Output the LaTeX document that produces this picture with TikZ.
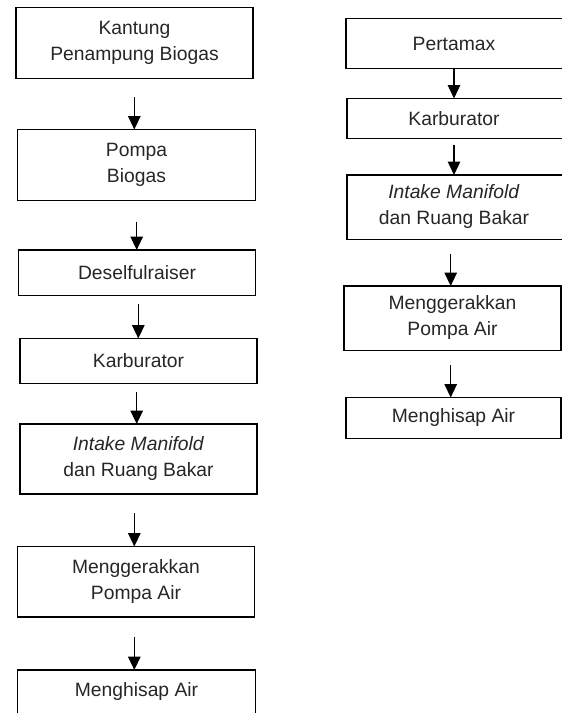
\documentclass[tikz,border=0pt]{standalone}
\usepackage{fontspec}
\setmainfont{Liberation Sans}
\usetikzlibrary{arrows.meta}
\begin{document}
\begin{tikzpicture}[x=1pt,y=-1pt,
  boxst/.style={draw=black,line width=1.4pt},
  lbl/.style={align=center,font=\fontsize{19.3}{26}\selectfont,text=black!85,inner sep=0pt},
  arr/.style={line width=1.4pt,-{Triangle[width=12.5pt,length=13.5pt]}}]
\useasboundingbox (0,0) rectangle (562,713);
% left column
\draw[boxst] (16,7.5) rectangle (253,78.5);
\node[lbl] (l1) at (134.5,43) {Kantung\\Penampung Biogas};
\draw[boxst] (17.5,129.5) rectangle (255.5,200.5);
\node[lbl] (l2) at (136.5,165) {Pompa\\Biogas};
\draw[boxst] (18.5,250) rectangle (255.5,295.5);
\node[lbl] (l3) at (137,273) {Deselfulraiser};
\draw[boxst] (20,338.5) rectangle (257,383.5);
\node[lbl] (l4) at (138.5,361) {Karburator};
\draw[boxst] (20,424) rectangle (257,494);
\node[lbl] (l5) at (138.5,459) {\textit{Intake Manifold}\\dan Ruang Bakar};
\draw[boxst] (17.5,546.5) rectangle (254.5,617);
\node[lbl] (l6) at (136,582) {Menggerakkan\\Pompa Air};
\draw[boxst] (17.5,670) rectangle (255.5,716);
\node[lbl] (l7) at (136.5,692) {Menghisap Air};
% right column
\draw[boxst] (346,18.5) rectangle (564,68.5);
\node[lbl] (r1) at (454,43.5) {Pertamax};
\draw[boxst] (347,98.5) rectangle (564,138.5);
\node[lbl] (r2) at (454,118.5) {Karburator};
\draw[boxst] (347,175) rectangle (564,239.5);
\node[lbl] (r3) at (454,207) {\textit{Intake Manifold}\\dan Ruang Bakar};
\draw[boxst] (344,286) rectangle (561,350.5);
\node[lbl] (r4) at (452.5,318) {Menggerakkan\\Pompa Air};
\draw[boxst] (346,397.5) rectangle (561,438.5);
\node[lbl] (r5) at (453.5,418) {Menghisap Air};
% arrow anchors
\coordinate (a1s) at (134.3,97);   \coordinate (a1e) at (134.3,129.5);
\coordinate (a2s) at (136.7,221.7);\coordinate (a2e) at (136.7,250);
\coordinate (a3s) at (138.3,304);  \coordinate (a3e) at (138.3,338.5);
\coordinate (a4s) at (136.7,392.3);\coordinate (a4e) at (136.7,424);
\coordinate (a5s) at (134.3,513.3);\coordinate (a5e) at (134.3,546.5);
\coordinate (a6s) at (134.3,636.7);\coordinate (a6e) at (134.3,670);
\coordinate (b1s) at (454,68.5);   \coordinate (b1e) at (454,98.5);
\coordinate (b2s) at (454,145);    \coordinate (b2e) at (454,175);
\coordinate (b3s) at (450.7,254);  \coordinate (b3e) at (450.7,286);
\coordinate (b4s) at (450.7,365);  \coordinate (b4e) at (450.7,397.5);
\foreach \p in {a1,a2,a3,a4,a5,a6,b1,b2,b3,b4}
  \draw[arr] (\p s) -- (\p e);
\end{tikzpicture}
\end{document}
